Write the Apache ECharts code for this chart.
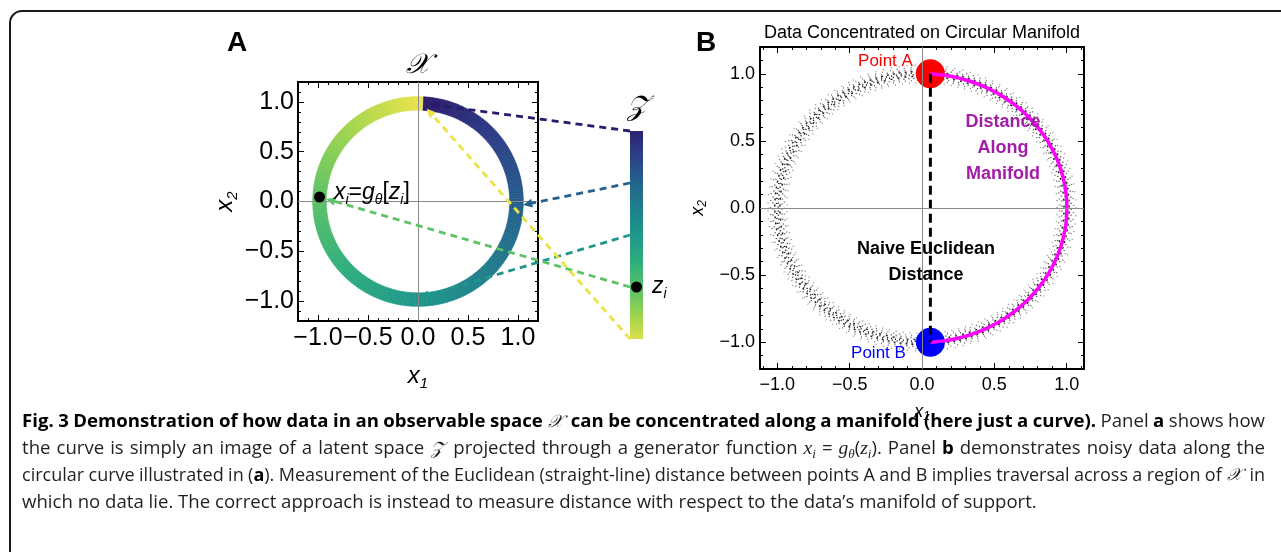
<!DOCTYPE html>
<html>
<head>
<meta charset="utf-8">
<script src="https://cdn.jsdelivr.net/npm/echarts@6/dist/echarts.min.js"></script>
<style>
html, body { margin: 0; padding: 0; background: #fff; }
#main { width: 1281px; height: 552px; }
</style>
</head>
<body>
<div id="main"></div>
<script>
// tick marks shared by both panels
const tickValues = [-1, -0.5, 0, 0.5, 1];
const tickLabels = ['−1.0', '−0.5', '0.0', '0.5', '1.0'];
const minorTicks = [-1.1, -0.9, -0.8, -0.7, -0.6, -0.4, -0.3, -0.2, -0.1,
                    0.1, 0.2, 0.3, 0.4, 0.6, 0.7, 0.8, 0.9, 1.1];

// panel A: latent z in [0,1] mapped onto the circle
const ringRadius = 0.985;
const ringHalfWidth = 0.068;
const ringStartDeg = 87;
const ringSweepDeg = 359.5;
const linkZ = [0, 0.25, 0.5, 0.75, 1];
const sampleZ = 0.75;
const viridisColors = ['#2a1a6b', '#2c3b85', '#25608d', '#1f7e8c', '#1f978a',
                       '#2fae7c', '#5dc266', '#a3d54d', '#ece34a'];

// panel B
const pointA = [0.058, 1.0];
const pointB = [0.058, -1.0];
const noiseRadii = [0.935, 0.952, 0.968, 0.982, 0.994, 1.006, 1.018, 1.032, 1.048, 1.065];
const noiseShade = [0.4, 0.55, 0.7, 0.85, 0.95, 0.95, 0.85, 0.7, 0.55, 0.4];

const chart = echarts.init(document.getElementById('main'));

function viridis(z) { return echarts.color.lerp(Math.min(1, Math.max(0, z)), viridisColors); }
function ringAngle(z) { return (ringStartDeg - ringSweepDeg * z) * Math.PI / 180; }
function circle(r, a0, a1, n) {
  const pts = [];
  for (let k = 0; k <= n; k++) {
    const a = (a0 + (a1 - a0) * k / n) * Math.PI / 180;
    pts.push([r * Math.cos(a), r * Math.sin(a)]);
  }
  return pts;
}

const sans = 'Liberation Sans';
function mathRich(size, sub, lh) {
  return {
    i: { fontFamily: sans, fontStyle: 'italic', fontSize: size, lineHeight: lh, color: '#000', fill: '#000' },
    u: { fontFamily: sans, fontSize: size, lineHeight: lh, color: '#000', fill: '#000' },
    s: { fontFamily: sans, fontStyle: 'italic', fontSize: sub, lineHeight: sub, verticalAlign: 'bottom', color: '#000', fill: '#000' }
  };
}

function frame(grid, dim, min, max, font, margin, names) {
  const sides = dim === 'x' ? ['bottom', 'top'] : ['left', 'right'];
  const axes = [];
  sides.forEach((side, s) => {
    const nm = names[s] || {};
    axes.push({
      type: 'value', gridIndex: grid, min, max, position: side,
      splitLine: { show: false },
      name: nm.name || '', nameLocation: 'middle', nameGap: nm.gap || 0,
      nameTextStyle: nm.style || {},
      axisLine: { show: true, onZero: false, lineStyle: { color: '#000', width: 2 } },
      axisTick: { show: true, inside: true, length: 6, customValues: tickValues, lineStyle: { color: '#000', width: 1 } },
      axisLabel: {
        show: s === 0, customValues: tickValues, margin,
        formatter: v => { const k = tickValues.indexOf(v); return k < 0 ? '' : tickLabels[k]; },
        fontSize: font, fontFamily: sans, color: '#000'
      }
    });
    axes.push({
      type: 'value', gridIndex: grid, min, max, position: side,
      splitLine: { show: false },
      axisLine: { show: false, onZero: false },
      axisTick: { show: true, inside: true, length: 3, customValues: minorTicks, lineStyle: { color: '#000', width: 1 } },
      axisLabel: { show: false }
    });
  });
  return axes;
}

const hiddenAxis = (grid, inverse) => ({
  type: 'value', gridIndex: grid, min: 0, max: 1, inverse: !!inverse, show: false
});

const xAxes = [].concat(
  frame(0, 'x', -1.2, 1.2, 25, 5, [
    { name: '{i|x}{s|1}', gap: 40, style: { rich: mathRich(24, 15, 30) } },
    { name: '𝒳', gap: 2, style: { fontSize: 28, fontFamily: 'DejaVu Serif', fontStyle: 'italic', color: '#000' } }
  ]),
  [hiddenAxis(1)],
  frame(2, 'x', -1.12, 1.12, 18, 7, [
    { name: '{i|x}{s|1}', gap: 32, style: { rich: mathRich(18, 12, 22) } },
    { name: 'Data Concentrated on Circular Manifold', gap: 5, style: { fontSize: 18, fontFamily: sans, color: '#000' } }
  ])
);
const yAxes = [].concat(
  frame(0, 'y', -1.2, 1.2, 25, 4, [
    { name: '{i|x}{s|2}', gap: 57, style: { rich: mathRich(24, 15, 30) } }, {}
  ]),
  [hiddenAxis(1, true)],
  frame(2, 'y', -1.2, 1.2, 18, 5, [
    { name: '{i|x}{s|2}', gap: 51, style: { rich: mathRich(18, 12, 22) } }, {}
  ])
);

// ring segments for panel A
const ringData = [];
const ringSegments = 240;
for (let k = 0; k < ringSegments; k++) ringData.push([k / ringSegments, (k + 1) / ringSegments]);

const series = [];
series.push({
  type: 'line', xAxisIndex: 0, yAxisIndex: 0, data: [], z: 1,
  markLine: {
    silent: true, symbol: 'none', label: { show: false },
    lineStyle: { color: '#888', width: 1, type: 'solid' },
    data: [{ xAxis: 0 }, { yAxis: 0 }]
  }
});
series.push({
  type: 'custom', xAxisIndex: 0, yAxisIndex: 0, data: ringData, z: 2,
  renderItem(params, api) {
    const z0 = api.value(0), z1 = api.value(1);
    const outer = [], inner = [];
    for (let s = 0; s <= 2; s++) {
      const a = ringAngle(z0 + (z1 - z0) * s / 2);
      outer.push(api.coord([(ringRadius + ringHalfWidth) * Math.cos(a), (ringRadius + ringHalfWidth) * Math.sin(a)]));
      inner.unshift(api.coord([(ringRadius - ringHalfWidth) * Math.cos(a), (ringRadius - ringHalfWidth) * Math.sin(a)]));
    }
    const c = viridis((z0 + z1) / 2);
    return { type: 'polygon', shape: { points: outer.concat(inner) }, style: { fill: c, stroke: c, lineWidth: 0.6 } };
  }
});
const sa = ringAngle(sampleZ);
series.push({
  type: 'scatter', xAxisIndex: 0, yAxisIndex: 0, z: 10,
  data: [[-1.0 * ringRadius, ringRadius * Math.sin(sa)]],
  symbolSize: 11, itemStyle: { color: '#000', opacity: 1 },
  label: {
    show: true, position: 'right', distance: 9, offset: [0, -4],
    formatter: '{i|x}{s|i}{u|=}{i|g}{s|θ}{u|[}{i|z}{s|i}{u|]}',
    rich: mathRich(23, 14, 28)
  }
});
// latent bar
series.push({
  type: 'line', xAxisIndex: 4, yAxisIndex: 4, clip: false, showSymbol: false,
  data: [[0.5, 0], [0.5, 1]],
  lineStyle: {
    width: 13, cap: 'butt',
    color: new echarts.graphic.LinearGradient(0, 0, 0, 1,
      viridisColors.map((c, k) => ({ offset: k / (viridisColors.length - 1), color: c })))
  }
});
series.push({
  type: 'scatter', xAxisIndex: 4, yAxisIndex: 4, z: 10,
  data: [[0.5, sampleZ]], symbolSize: 11, itemStyle: { color: '#000', opacity: 1 },
  label: { show: true, position: 'right', distance: 10, formatter: '{i|z}{s|i}', rich: mathRich(23, 14, 28) }
});

// panel B
series.push({
  type: 'line', xAxisIndex: 5, yAxisIndex: 5, data: [], z: 1,
  markLine: {
    silent: true, symbol: 'none', label: { show: false },
    lineStyle: { color: '#888', width: 1, type: 'solid' },
    data: [{ xAxis: 0 }, { yAxis: 0 }]
  }
});
const dashes = [[1, 6], [1, 5], [1, 4], [2, 5], [1, 3], [1, 4], [2, 4], [1, 5], [1, 6], [1, 7]];
noiseRadii.forEach((r, k) => {
  series.push({
    type: 'line', xAxisIndex: 5, yAxisIndex: 5, showSymbol: false, silent: true, z: 2,
    data: circle(r, k * 13, k * 13 + 360, 360),
    lineStyle: { width: 1.5, color: 'rgba(0,0,0,' + noiseShade[k] + ')', type: dashes[k], dashOffset: k * 2.3 }
  });
});
series.push({
  type: 'scatter', xAxisIndex: 5, yAxisIndex: 5, z: 3, symbolSize: 29,
  data: [
    { value: pointA, itemStyle: { color: '#ff0000', opacity: 1 },
      label: { show: true, formatter: 'Point A', position: 'left', distance: 3, offset: [0, -13], color: '#ff0000', fontSize: 17, fontFamily: sans } },
    { value: pointB, itemStyle: { color: '#0000ff', opacity: 1 },
      label: { show: true, formatter: 'Point B', position: 'left', distance: 10, offset: [0, 11], color: '#0000ff', fontSize: 17, fontFamily: sans } }
  ]
});
const aA = Math.atan2(pointA[1], pointA[0]) * 180 / Math.PI;
const aB = Math.atan2(pointB[1], pointB[0]) * 180 / Math.PI;
series.push({
  type: 'line', xAxisIndex: 5, yAxisIndex: 5, showSymbol: false, z: 4,
  data: circle(Math.hypot(pointA[0], pointA[1]), aA, aB, 180),
  lineStyle: { color: '#ff00ff', width: 3.5 }
});
series.push({
  type: 'line', xAxisIndex: 5, yAxisIndex: 5, showSymbol: false, z: 4,
  data: [pointA, pointB],
  lineStyle: { color: '#000', width: 3, type: [9, 5] }
});

chart.setOption({
  animation: false,
  grid: [
    { left: 298, top: 82, width: 240, height: 239, containLabel: false, outerBoundsMode: 'none' },
    { left: 630, top: 131, width: 13, height: 208, containLabel: false, outerBoundsMode: 'none' },
    { left: 760, top: 47, width: 324, height: 322, containLabel: false, outerBoundsMode: 'none' }
  ],
  xAxis: xAxes,
  yAxis: yAxes,
  series
});

// dashed links from the latent bar to the ring
const els = [];
linkZ.forEach(z => {
  const a = ringAngle(z);
  const p0 = chart.convertToPixel({ xAxisIndex: 4, yAxisIndex: 4 }, [0, z]);
  const p1 = chart.convertToPixel({ xAxisIndex: 0, yAxisIndex: 0 }, [ringRadius * Math.cos(a), ringRadius * Math.sin(a)]);
  const dx = p1[0] - p0[0], dy = p1[1] - p0[1], len = Math.hypot(dx, dy);
  const ux = dx / len, uy = dy / len;
  const tip = [p1[0] - ux * 7, p1[1] - uy * 7];
  const base = [tip[0] - ux * 9, tip[1] - uy * 9];
  const col = viridis(z);
  els.push({ type: 'line', z: 5, shape: { x1: p0[0], y1: p0[1], x2: base[0], y2: base[1] },
             style: { stroke: col, lineWidth: 2.8, lineDash: [7, 5] } });
  els.push({ type: 'polygon', z: 5,
             shape: { points: [tip, [base[0] - uy * 4.5, base[1] + ux * 4.5], [base[0] + uy * 4.5, base[1] - ux * 4.5]] },
             style: { fill: col } });
});

function txt(x, y, text, font, fill, lh) {
  return { type: 'text', x, y, z: 6,
    style: { text, font, fill, align: 'center', verticalAlign: 'middle', textAlign: 'center', textVerticalAlign: 'middle', lineHeight: lh || 20 } };
}
els.push({ type: 'rect', z: 0, shape: { x: 10, y: 11, width: 1320, height: 620, r: 12 },
           style: { fill: 'none', stroke: '#1a1a1a', lineWidth: 2 } });
els.push(txt(237, 43, 'A', 'bold 28px Liberation Sans', '#000'));
els.push(txt(706, 43, 'B', 'bold 28px Liberation Sans', '#000'));
els.push(txt(637, 108, '𝒵', 'italic 28px DejaVu Serif', '#000'));
els.push(txt(1003, 148, 'Distance\nAlong\nManifold', 'bold 18px Liberation Sans', '#a21ca8', 26));
els.push(txt(926, 262, 'Naive Euclidean\nDistance', 'bold 18px Liberation Sans', '#000', 26));

// caption, justified line by line
const capLeft = 22, capWidth = 1243;
const capY = [422, 449, 476, 503];
const capFont = 'Open Sans', capSize = 18.6;
const capBase = {
  r: { fontFamily: capFont, fontSize: capSize, lineHeight: 24, fill: '#231f20', color: '#231f20' },
  b: { fontFamily: capFont, fontSize: capSize, fontWeight: 'bold', lineHeight: 24, fill: '#000', color: '#000' },
  m: { fontFamily: 'DejaVu Serif', fontStyle: 'italic', fontSize: capSize - 1, lineHeight: 24, padding: [0, 3, 0, 1], fill: '#231f20', color: '#231f20' },
  mi: { fontFamily: 'Liberation Serif', fontStyle: 'italic', fontSize: capSize + 1, lineHeight: 24, fill: '#231f20', color: '#231f20' },
  sub: { fontFamily: 'Liberation Serif', fontStyle: 'italic', fontSize: 13, lineHeight: 14, verticalAlign: 'bottom', fill: '#231f20', color: '#231f20' }
};
const capLines = [
  [['b', 'Fig. 3 Demonstration of how data in an observable space '], ['m', '𝒳'], ['b', ' can be concentrated along a manifold (here just a curve).'],
   ['r', ' Panel '], ['b', 'a'], ['r', ' shows how']],
  [['r', 'the curve is simply an image of a latent space '], ['m', '𝒵'], ['r', ' projected through a generator function '],
   ['mi', 'x'], ['sub', 'i'], ['r', ' = '], ['mi', 'g'], ['sub', 'θ'], ['r', '('], ['mi', 'z'], ['sub', 'i'], ['r', '). Panel '], ['b', 'b'],
   ['r', ' demonstrates noisy data along the']],
  [['r', 'circular curve illustrated in ('], ['b', 'a'], ['r', '). Measurement of the Euclidean (straight-line) distance between points A and B implies traversal across a region of '],
   ['m', '𝒳'], ['r', ' in']],
  [['r', 'which no data lie. The correct approach is instead to measure distance with respect to the data’s manifold of support.']]
];
const ctx = document.createElement('canvas').getContext('2d');
const cssFont = s => (s.fontStyle || 'normal') + ' ' + (s.fontWeight || 'normal') + ' ' + s.fontSize + 'px ' + s.fontFamily;
function scaledStyles(f) {
  const out = {};
  Object.keys(capBase).forEach(k => { out[k] = Object.assign({}, capBase[k], { fontSize: capBase[k].fontSize * f }); });
  return out;
}
function measureLine(segs, st) {
  const tokens = [];
  segs.forEach(([k, t]) => t.split(/( )/).forEach(p => { if (p) tokens.push(p === ' ' ? ['sp', ' '] : [k, p]); }));
  let used = 0, nsp = 0;
  tokens.forEach(([k, t]) => {
    if (k === 'sp') { nsp++; return; }
    ctx.font = cssFont(st[k]); used += ctx.measureText(t).width + (k === 'm' ? 4 : 0);
  });
  ctx.font = cssFont(st.r);
  return { tokens, used, nsp, natural: ctx.measureText(' ').width };
}
capLines.forEach((segs, li) => {
  const justify = li < capLines.length - 1;
  let f = 1, st = scaledStyles(f), m = measureLine(segs, st);
  // shrink a justified line slightly if its words would not fit with normal spacing
  while (justify && f > 0.85 && m.used + m.nsp * m.natural * 0.9 > capWidth) {
    f -= 0.01; st = scaledStyles(f); m = measureLine(segs, st);
  }
  const spW = justify ? (capWidth - m.used) / m.nsp : m.natural;
  const rich = Object.assign({}, st, { sp: Object.assign({}, st.r, { width: spW }) });
  els.push({ type: 'text', x: capLeft, y: capY[li], z: 6,
    style: { text: m.tokens.map(([k, t]) => '{' + k + '|' + t + '}').join(''), rich,
             verticalAlign: 'middle', textVerticalAlign: 'middle' } });
});

chart.setOption({ graphic: els });
</script>
</body>
</html>
